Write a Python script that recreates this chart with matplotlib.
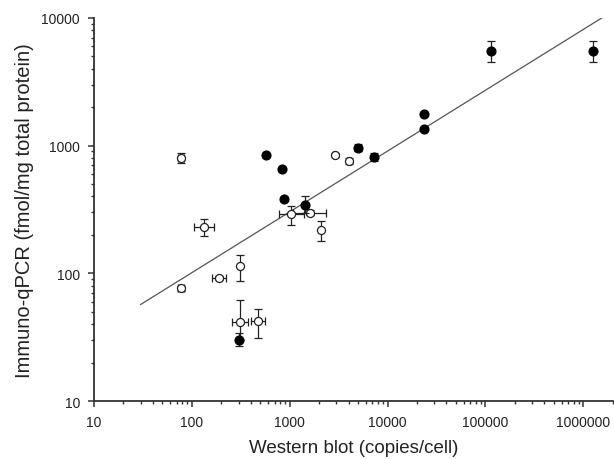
import numpy as np
import matplotlib
matplotlib.use("Agg")
import matplotlib.pyplot as plt
from matplotlib.ticker import LogLocator, FixedLocator, FixedFormatter, NullFormatter

plt.rcParams['font.family'] = ['Liberation Sans', 'DejaVu Sans']

# ---- data: filled circles ----
filled_x = [578, 844, 885, 1450, 4950, 7230, 23500, 23500, 114000, 1260000, 306]
filled_y = [845, 658, 383, 344, 960, 817, 1770, 1352, 5520, 5520, 30.3]
filled_ylo = [845, 658, 383, 295, 905, 760, 1770, 1352, 4500, 4500, 27]
filled_yhi = [845, 658, 383, 403, 1020, 880, 1770, 1352, 6640, 6640, 34]

# ---- data: open symbols ----
open_x = [78, 134, 78, 191, 311, 311, 479, 1035, 1596, 2100, 2878, 4035]
open_y = [796, 230, 76.4, 92, 114, 41.4, 42.7, 292, 297, 220, 845, 755]
open_ylo = [730, 197, 73, 89, 87.7, 30, 31.2, 237, 285, 180, 820, 720]
open_yhi = [870, 267, 80, 95, 138, 62, 53, 339, 312, 259, 870, 800]
open_xlo = [73, 106, 72, 162, 311, 257, 403, 785, 1077, 2100, 2750, 3850]
open_xhi = [84, 167, 84, 225, 311, 372, 560, 1384, 2366, 2100, 3000, 4200]

# ---- fitted line endpoints ----
fit_x = [30, 1.55e6]
fit_y = [57, 10000]

x_ticks = [10, 100, 1000, 10000, 100000, 1000000]
x_ticklabels = ['10', '100', '1000', '10000', '100000', '1000000']
y_ticks = [10, 100, 1000, 10000]
y_ticklabels = ['10', '100', '1000', '10000']

fig = plt.figure(figsize=(6.14, 4.60), dpi=100)
ax = fig.add_axes([0.153, 0.126, 0.845, 0.833])

ink = '#222222'

ax.plot(fit_x, fit_y, color='#555555', lw=0.9, zorder=1)

fx = np.array(filled_x); fy = np.array(filled_y)
ax.errorbar(fx, fy, yerr=[fy - np.array(filled_ylo), np.array(filled_yhi) - fy],
            fmt='o', ms=6.3, mfc='black', mec='black', ecolor=ink, elinewidth=0.9,
            capsize=3, capthick=0.9, zorder=3)

ox = np.array(open_x); oy = np.array(open_y)
ax.errorbar(ox, oy, yerr=[oy - np.array(open_ylo), np.array(open_yhi) - oy],
            xerr=[ox - np.array(open_xlo), np.array(open_xhi) - ox],
            fmt='o', ms=5.8, mfc='white', mec=ink, mew=0.9, ecolor=ink, elinewidth=0.9,
            capsize=3, capthick=0.9, zorder=2)

ax.set_xscale('log')
ax.set_yscale('log')
ax.set_xlim(10, 2.0e6)
ax.set_ylim(10, 10000)

ax.xaxis.set_major_locator(FixedLocator(x_ticks))
ax.xaxis.set_major_formatter(FixedFormatter(x_ticklabels))
ax.yaxis.set_major_locator(FixedLocator(y_ticks))
ax.yaxis.set_major_formatter(FixedFormatter(y_ticklabels))
ax.xaxis.set_minor_locator(LogLocator(base=10, subs=np.arange(2, 10), numticks=20))
ax.yaxis.set_minor_locator(LogLocator(base=10, subs=np.arange(2, 10), numticks=20))
ax.xaxis.set_minor_formatter(NullFormatter())
ax.yaxis.set_minor_formatter(NullFormatter())

for s in ['top', 'right']:
    ax.spines[s].set_visible(False)
for s in ['left', 'bottom']:
    ax.spines[s].set_linewidth(1.3)
    ax.spines[s].set_color('#333333')

ax.tick_params(which='major', direction='out', length=4, width=1.1, color='#333333',
               labelsize=10, labelcolor='#222222')
ax.tick_params(axis='y', which='major', pad=6)
ax.tick_params(axis='x', which='major', pad=6)
ax.tick_params(which='minor', direction='out', length=2.5, width=1.0, color='#333333')

ax.set_xlabel('Western blot (copies/cell)', fontsize=13.5, labelpad=7, color='#222222')
ax.set_ylabel('Immuno-qPCR (fmol/mg total protein)', fontsize=14.5, labelpad=5, color='#222222')

fig.savefig('out.png', dpi=100)
